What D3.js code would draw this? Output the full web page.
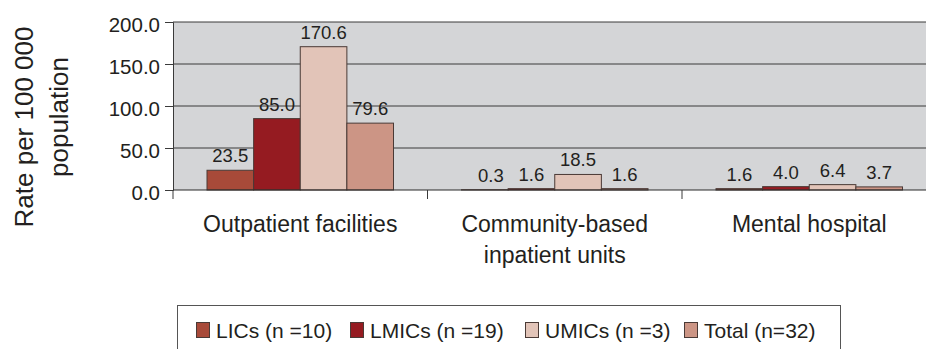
<!DOCTYPE html>
<html>
<head>
<meta charset="utf-8">
<script src="https://cdn.jsdelivr.net/npm/d3@7"></script>
<style>
  html, body { margin: 0; padding: 0; background: #fff; }
  svg { display: block; font-family: "Liberation Sans", Arial, Helvetica, sans-serif; }
</style>
</head>
<body>
<svg id="chart" width="926" height="349"></svg>
<script>
// Facility groups along the x axis (each may wrap to two lines)
const categories = [
  ["Outpatient facilities"],
  ["Community-based", "inpatient units"],
  ["Mental hospital"]
];
const seriesNames = ["LICs (n =10)", "LMICs (n =19)", "UMICs (n =3)", "Total (n=32)"];
const seriesColors = ["#a84a39", "#951b21", "#e2c4b8", "#cc9585"];
// Rate per 100 000 population, one array per income group
const lics  = [23.5, 0.3, 1.6];
const lmics = [85.0, 1.6, 4.0];
const umics = [170.6, 18.5, 6.4];
const total = [79.6, 1.6, 3.7];
const yTicks = [0, 50, 100, 150, 200];

const series = [lics, lmics, umics, total];
const svg = d3.select("#chart");
const textColor = "#231f20";

const plot = { left: 173, top: 22, bottom: 190, right: 936.5 };

const x0 = d3.scaleBand()
  .domain(d3.range(categories.length))
  .range([plot.left, plot.right]);
const x1 = d3.scaleBand()
  .domain(d3.range(series.length))
  .range([34, x0.bandwidth() - 34]);
const y = d3.scaleLinear().domain([0, 200]).range([plot.bottom, plot.top]);

// Plot background
svg.append("rect")
  .attr("x", plot.left).attr("y", plot.top)
  .attr("width", plot.right - plot.left).attr("height", plot.bottom - plot.top)
  .attr("fill", "#d4d5d7");

// Horizontal gridlines
svg.append("g").selectAll("line").data(yTicks.filter(d => d > 0)).join("line")
  .attr("x1", plot.left).attr("x2", plot.right)
  .attr("y1", d => y(d)).attr("y2", d => y(d))
  .attr("stroke", "#3a3a3a").attr("stroke-width", 1);

// Y axis
const yAxis = svg.append("g")
  .attr("transform", `translate(${plot.left},0)`)
  .call(d3.axisLeft(y).tickValues(yTicks).tickFormat(d3.format(".1f")).tickSize(8).tickPadding(5));
yAxis.select(".domain").attr("stroke", "#3a3a3a");
yAxis.selectAll(".tick line").attr("stroke", "#3a3a3a");
yAxis.selectAll(".tick text")
  .attr("fill", textColor).style("font-size", "20.5px")
  .attr("dy", "0.48em")
  .attr("font-family", null);

// Bars
const groups = svg.append("g").selectAll("g").data(categories).join("g")
  .attr("transform", (d, i) => `translate(${x0(i)},0)`);

groups.each(function(cat, ci) {
  const g = d3.select(this);
  series.forEach((vals, si) => {
    const v = vals[ci];
    g.append("rect")
      .attr("x", x1(si)).attr("width", x1.bandwidth())
      .attr("y", y(v)).attr("height", y(0) - y(v))
      .attr("fill", seriesColors[si])
      .attr("stroke", "#4a3a36").attr("stroke-width", 1);
    g.append("text")
      .attr("x", x1(si) + x1.bandwidth() / 2 + (v < 1 ? 6 : 0))
      .attr("y", y(v) - 8)
      .attr("text-anchor", "middle")
      .attr("fill", textColor)
      .style("font-size", "18.5px")
      .text(d3.format(".1f")(v));
  });
});

// X axis
const xAxis = svg.append("g").attr("transform", `translate(0,${plot.bottom})`);
xAxis.append("line")
  .attr("x1", plot.left).attr("x2", plot.right)
  .attr("stroke", "#2a2a2a").attr("stroke-width", 1.2);
xAxis.selectAll("line.tick").data(d3.range(categories.length)).join("line")
  .attr("class", "tick")
  .attr("x1", d => x0(d)).attr("x2", d => x0(d))
  .attr("y1", 0).attr("y2", 9)
  .attr("stroke", "#3a3a3a");
xAxis.selectAll("text").data(categories).join("text")
  .attr("text-anchor", "middle")
  .attr("fill", textColor)
  .style("font-size", "23px")
  .each(function(lines, i) {
    const t = d3.select(this);
    lines.forEach((ln, k) => {
      t.append("tspan")
        .attr("x", x0(i) + x0.bandwidth() / 2)
        .attr("y", 42 + k * 31)
        .text(ln);
    });
  });

// Y axis title, two rotated lines
const yTitleLines = [
  { text: "Rate per 100 000", x: 33, cy: 127 },
  { text: "population", x: 68, cy: 117 }
];
svg.append("g").selectAll("text").data(yTitleLines).join("text")
  .attr("transform", d => `translate(${d.x},${d.cy}) rotate(-90)`)
  .attr("text-anchor", "middle")
  .attr("fill", textColor)
  .style("font-size", "26px")
  .text(d => d.text);

// Legend
const legend = svg.append("g");
legend.append("rect")
  .attr("x", 177.5).attr("y", 305.5).attr("width", 663).attr("height", 60)
  .attr("fill", "#fff").attr("stroke", "#555").attr("stroke-width", 1);
const legendX = [196, 350, 525, 684];
seriesNames.forEach((name, i) => {
  legend.append("rect")
    .attr("x", legendX[i] + 0.5).attr("y", 322.5).attr("width", 13).attr("height", 15)
    .attr("fill", seriesColors[i]).attr("stroke", "#4a3a36");
  legend.append("text")
    .attr("x", legendX[i] + 20).attr("y", 338)
    .attr("fill", textColor)
    .style("font-size", "21px")
    .text(name);
});
</script>
</body>
</html>
